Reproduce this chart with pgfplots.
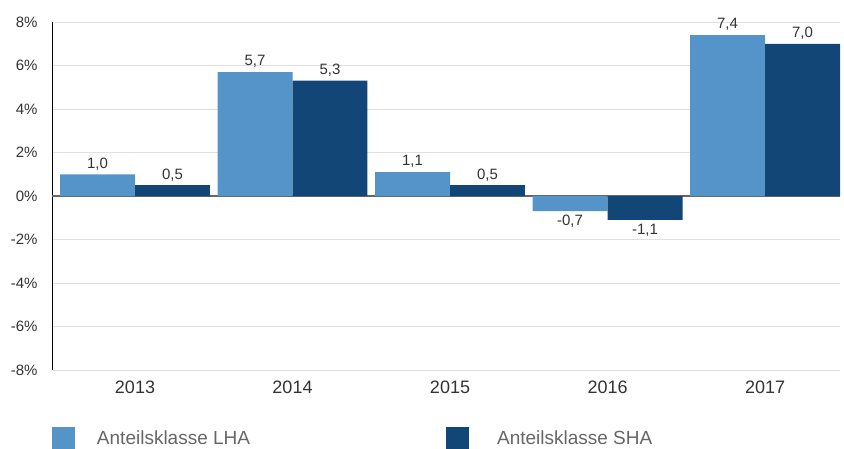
\documentclass[border=0pt]{standalone}
\usepackage{pgfplots}
\pgfplotsset{compat=1.18}
\usepackage{fontspec}
\setmainfont{Liberation Sans}
\definecolor{lha}{HTML}{5594C9}
\definecolor{sha}{HTML}{124677}
\definecolor{txt}{HTML}{333333}
\definecolor{legtxt}{HTML}{666666}
\definecolor{gridc}{HTML}{E0E0E0}
\begin{document}
\begin{tikzpicture}
\path[use as bounding box] (-52pt,-78pt) rectangle (792pt,370pt);
\begin{axis}[
  at={(0,0)}, anchor=south west,
  scale only axis,
  width=788pt, height=348pt,
  ybar=0pt,
  bar width=0.476,
  xmin=-0.527, xmax=4.476,
  ymin=-8, ymax=8,
  xtick={0,1,2,3,4},
  xticklabels={2013,2014,2015,2016,2017},
  ytick={-8,-6,-4,-2,0,2,4,6,8},
  yticklabels={-8\%,-6\%,-4\%,-2\%,0\%,2\%,4\%,6\%,8\%},
  major tick length=0pt,
  ymajorgrids,
  grid style={gridc, line width=0.8pt},
  axis lines*=left,
  axis line style={-},
  x axis line style={draw=none},
  y axis line style={black, line width=0.8pt},
  yticklabel style={font=\fontsize{15}{17}\selectfont, text=txt, xshift=-11pt},
  xticklabel style={font=\fontsize{18}{20}\selectfont, text=txt, yshift=-7pt},
  extra y ticks={0},
  extra y tick labels={},
  extra y tick style={grid style={color=black!60, line width=1.2pt}},
  nodes near coords,
  every node near coord/.append style={font=\fontsize{15}{17}\selectfont, text=txt, inner sep=4pt},
  /pgf/number format/.cd, fixed, fixed zerofill, precision=1, use comma, assume math mode=true,
  /pgfplots/.cd,
  legend columns=2,
  legend style={at={(0,-68pt)}, anchor=west, draw=none, fill=none,
    font=\fontsize{19}{22}\selectfont, text=legtxt,
    /tikz/every even column/.append style={column sep=194pt},
    inner sep=0pt, outer sep=0pt},
  legend cell align=left,
  legend image code/.code={\fill[#1] (0pt,-11.5pt) rectangle (23pt,11.5pt);},
]
\addplot[fill=lha, draw=none] coordinates {(0,1.0) (1,5.7) (2,1.1) (3,-0.7) (4,7.4)};
\addplot[fill=sha, draw=none] coordinates {(0,0.5) (1,5.3) (2,0.5) (3,-1.1) (4,7.0)};
\legend{\hspace{20pt}Anteilsklasse LHA,\hspace{26pt}Anteilsklasse SHA}
\end{axis}
\end{tikzpicture}
\end{document}
